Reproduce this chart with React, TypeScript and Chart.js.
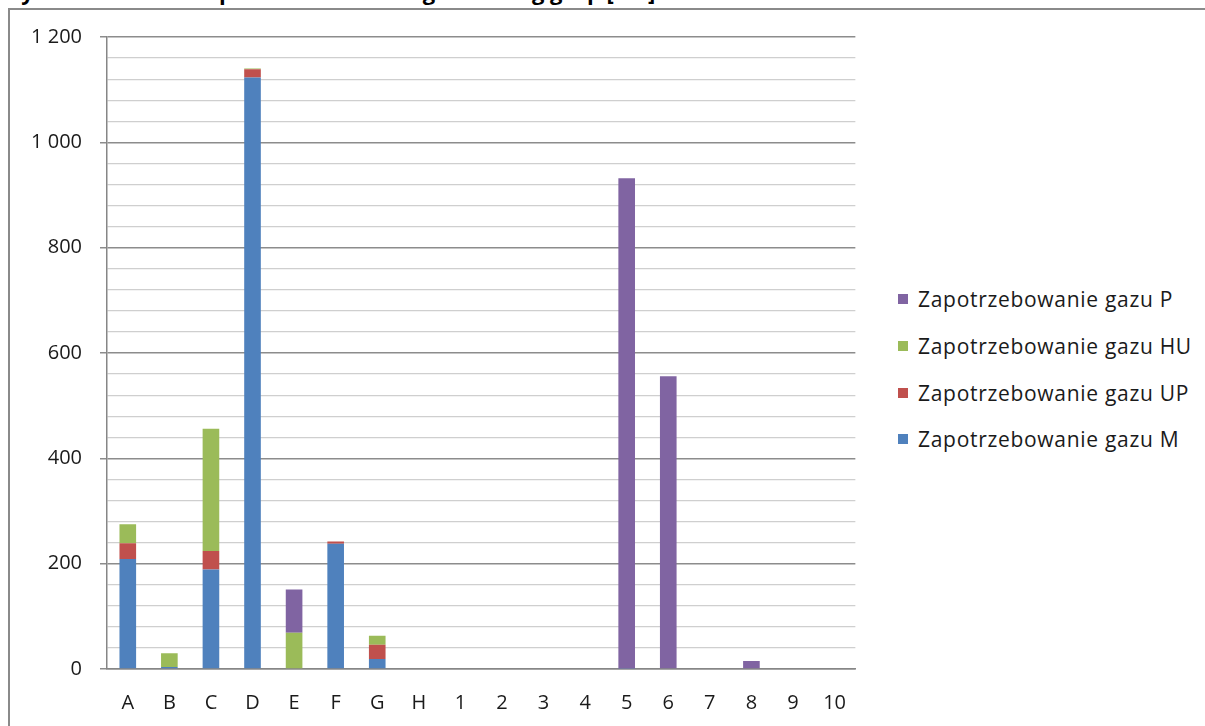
import React, { useEffect, useRef } from 'react';
import { Chart, registerables } from 'chart.js';

Chart.register(...registerables);

// Category labels along the x axis
const categories = ['A', 'B', 'C', 'D', 'E', 'F', 'G', 'H', '1', '2', '3', '4', '5', '6', '7', '8', '9', '10'];

// Stacked series values, bottom to top
const gasM = [209, 4, 189, 1123, 0, 238, 19, 0, 0, 0, 0, 0, 1, 0, 0, 0, 0, 0];
const gasUP = [30, 0, 35, 16, 0, 4, 27, 0, 0, 0, 0, 0, 0, 0, 0, 0, 0, 0];
const gasHU = [36, 26, 232, 1, 69, 0, 17, 0, 0, 0, 0, 0, 0, 0, 0, 0, 0, 0];
const gasP = [0, 0, 0, 0, 82, 0, 0, 0, 0, 0, 0, 0, 931, 556, 0, 15, 0, 0];

const seriesNames = [
  'Zapotrzebowanie gazu M',
  'Zapotrzebowanie gazu UP',
  'Zapotrzebowanie gazu HU',
  'Zapotrzebowanie gazu P',
];
const seriesValues = [gasM, gasUP, gasHU, gasP];
const seriesColors = ['#4F81BD', '#C0504D', '#9BBB59', '#8064A2'];

// Value axis: minor grid every 40, labelled major lines every 200
const yMin = 0;
const yMax = 1200;
const yMinorStep = 40;
const yMajorStep = 200;

const titleText = 'Wykres 1. Roczne zapotrzebowanie na gaz według grup [m3]';

const FONT = '"Open Sans", "Noto Sans", sans-serif';

const formatThousands = (v: number) =>
  String(v).replace(/\B(?=(\d{3})+(?!\d))/g, ' ');

const isMajor = (v: number) => Math.round(v) % yMajorStep === 0;

export default function App() {
  const canvasRef = useRef<HTMLCanvasElement | null>(null);

  useEffect(() => {
    if (!canvasRef.current) return;
    const chart = new Chart(canvasRef.current, {
      type: 'bar',
      data: {
        labels: categories,
        datasets: seriesNames.map((name, i) => ({
          label: name,
          data: seriesValues[i],
          backgroundColor: seriesColors[i],
          borderWidth: 0,
          barPercentage: 0.4,
          categoryPercentage: 1,
          stack: 'gas',
        })),
      },
      options: {
        responsive: false,
        animation: false,
        layout: { padding: { top: 24, right: 0, bottom: 0, left: 0 } },
        plugins: {
          legend: { display: false },
          title: { display: false },
          tooltip: { enabled: false },
        },
        scales: {
          x: {
            stacked: true,
            grid: { display: false, drawTicks: false },
            border: { display: true, color: '#868686', width: 1.5 },
            ticks: {
              color: '#1a1a1a',
              padding: 22,
              font: { family: FONT, size: 20 },
              maxRotation: 0,
              autoSkip: false,
            },
            afterFit: (scale: any) => {
              scale.height = 57;
            },
          },
          y: {
            stacked: true,
            min: yMin,
            max: yMax,
            grid: {
              color: (ctx: any) => (isMajor(ctx.tick.value) ? '#8c8c8c' : '#cfcfcf'),
              lineWidth: (ctx: any) => (isMajor(ctx.tick.value) ? 1.5 : 1.2),
              tickColor: (ctx: any) => (isMajor(ctx.tick.value) ? '#8c8c8c' : 'rgba(0,0,0,0)'),
              tickLength: 7,
              drawTicks: true,
            },
            border: { display: true, color: '#868686', width: 1.5 },
            ticks: {
              stepSize: yMinorStep,
              autoSkip: false,
              padding: 18,
              color: '#1a1a1a',
              font: { family: FONT, size: 20 },
              callback: (v: any) => (isMajor(Number(v)) ? formatThousands(Number(v)) : ''),
            },
            afterFit: (scale: any) => {
              scale.width = 97;
            },
          },
        },
      },
    });
    return () => chart.destroy();
  }, []);

  const legendOrder = [3, 2, 1, 0];

  return (
    <div
      style={{
        position: 'fixed',
        left: 0,
        top: 0,
        width: 1205,
        height: 726,
        overflow: 'hidden',
        background: '#ffffff',
      }}
    >
      <div
        style={{
          position: 'absolute',
          left: 0,
          top: -22,
          whiteSpace: 'nowrap',
          fontFamily: FONT,
          fontWeight: 700,
          fontSize: 22,
          lineHeight: '26px',
          color: '#000',
        }}
      >
        {titleText}
      </div>
      <div
        style={{
          position: 'absolute',
          left: 8,
          top: 8,
          width: 1300,
          height: 800,
          borderLeft: '2px solid #8a8a8a',
          borderTop: '2px solid #8a8a8a',
          background: '#ffffff',
        }}
      />
      <canvas
        ref={canvasRef}
        width={858}
        height={719}
        style={{ position: 'absolute', left: 10, top: 7, width: 858, height: 719 }}
      />
      <div style={{ position: 'absolute', left: 898, top: 276, fontFamily: FONT }}>
        {legendOrder.map((i) => (
          <div
            key={seriesNames[i]}
            style={{ display: 'flex', alignItems: 'center', height: 46.7 }}
          >
            <span
              style={{
                display: 'inline-block',
                width: 10,
                height: 10,
                background: seriesColors[i],
                marginRight: 10,
              }}
            />
            <span
              style={{
                fontSize: 21,
                letterSpacing: 0.7,
                color: '#1a1a1a',
                whiteSpace: 'nowrap',
              }}
            >
              {seriesNames[i]}
            </span>
          </div>
        ))}
      </div>
    </div>
  );
}
